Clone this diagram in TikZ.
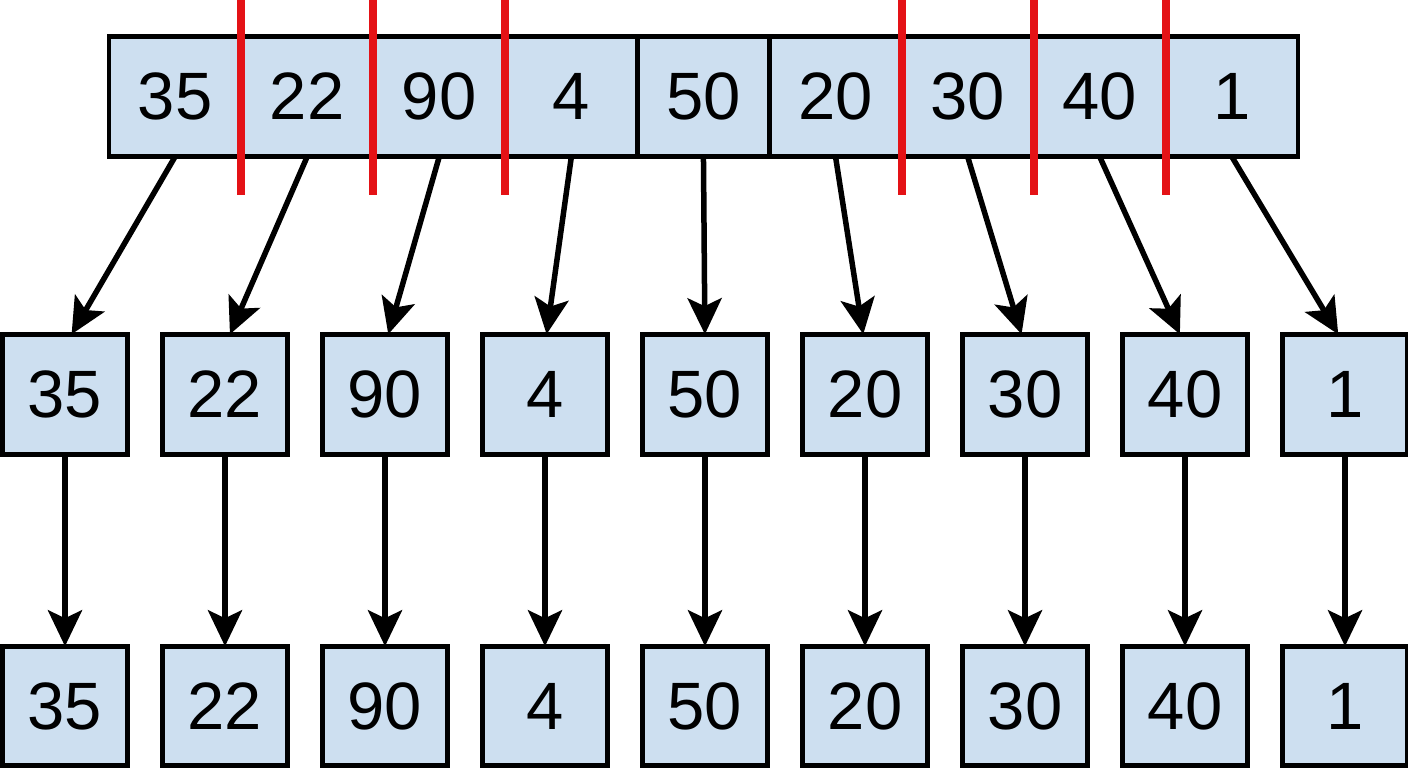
\documentclass[tikz,border=0pt]{standalone}
\usepackage{fontspec}
\setmainfont{Liberation Sans}
\usetikzlibrary{arrows.meta}
\definecolor{cellblue}{RGB}{205,223,240}
\definecolor{cutred}{RGB}{228,18,22}
\begin{document}
\begin{tikzpicture}[x=1pt,y=-1pt,
  cell/.style={draw=black,line width=4.6pt,fill=cellblue,minimum width=125.5pt,
    minimum height=120.5pt,inner sep=0pt,outer sep=0pt,
    font=\fontsize{67}{67}\selectfont},
  topcell/.style={cell,minimum width=132.1pt},
  arr/.style={line width=5.5pt,-{Stealth[length=36pt,width=34pt,inset=8pt]}},
  cut/.style={cutred,line width=8pt}]
\useasboundingbox (0,0) rectangle (1408,768);
% the array, its single elements, and the copies below them
\foreach \v [count=\i] in {35,22,90,4,50,20,30,40,1} {
  \node[topcell] (t\i) at ({175.05+132.1*(\i-1)}, 96.5) {\v};
  \node[cell] (m\i) at ({65+160*(\i-1)}, 394.5) {\v};
  \node[cell,minimum height=119.5pt] (b\i) at ({65+160*(\i-1)}, 706) {\v};
}
% split marks between elements
\foreach \i in {1,2,3,6,7,8} {
  \draw[cut] (t\i.east |- 0,0) -- (t\i.east |- 0,195);
}
% connectors; the slanted ones land a little toward their source
\foreach \i in {1,...,9} {
  \pgfmathsetmacro{\dx}{0.06*(110.05-27.9*(\i-1))}
  \draw[arr] (t\i.south) -- ([xshift=\dx pt]m\i.north);
  \draw[arr] (m\i.south) -- (b\i.north);
}
\end{tikzpicture}
\end{document}
